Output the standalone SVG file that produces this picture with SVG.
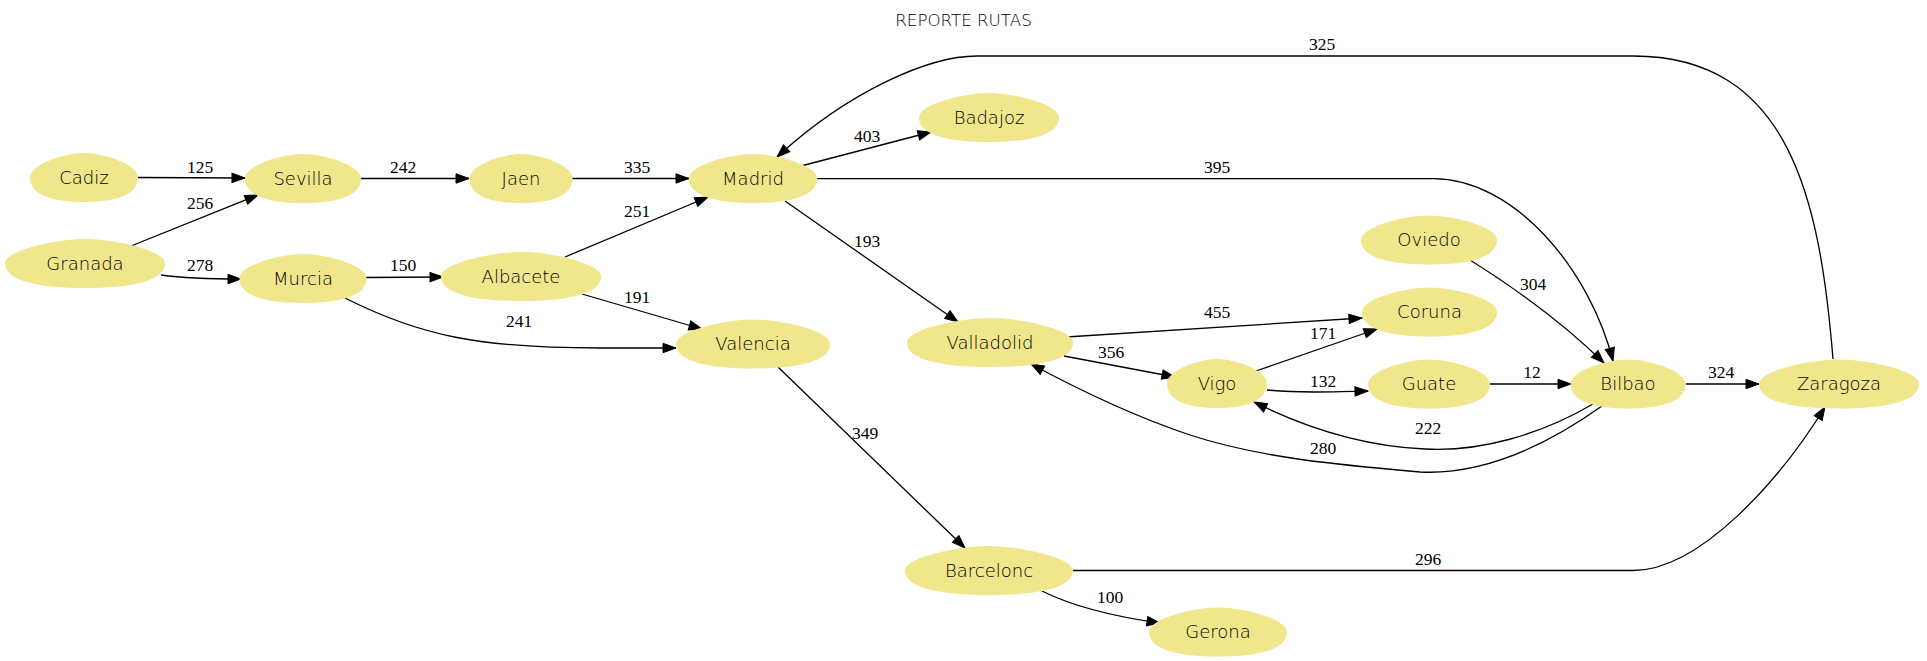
<svg xmlns="http://www.w3.org/2000/svg" xmlns:xlink="http://www.w3.org/1999/xlink" width="1927" height="661" viewBox="0 0 1927 661">
<style>
.bg{fill:#ffffff}
.node use{fill:#f0e68c;stroke:none}
.node text{font-family:"DejaVu Sans","Liberation Sans",sans-serif;font-size:18px;font-weight:200;fill:#000;text-anchor:middle}
.title{font-family:"DejaVu Sans","Liberation Sans",sans-serif;font-size:16.7px;font-weight:200;fill:#000;text-anchor:middle}
#edges path{fill:none;stroke:#000;stroke-width:1.3;marker-end:url(#arr)}
#edges text{font-family:"Liberation Serif","Times New Roman",serif;font-size:17.5px;fill:#000;text-anchor:middle}
</style>
<defs>
<path id="egg" d="M1,0 C1,0.6 0.7,1 0,1 C-0.7,1 -1,0.6 -1,0 C-1,-0.55 -0.35,-1 0,-1 C0.35,-1 1,-0.55 1,0 Z"/>
<marker id="arr" markerUnits="userSpaceOnUse" markerWidth="14" markerHeight="10" viewBox="0 0 14 10" refX="13" refY="4.7" orient="auto" overflow="visible">
<path d="M0,0 L13,4.7 L0,9.4 Z" fill="#000" stroke="#000" stroke-width="1"/>
</marker>
</defs>
<rect class="bg" x="0" y="0" width="1927" height="661"/>
<g id="title"><text class="title" x="963.5" y="26">REPORTE RUTAS</text></g>

<g id="edges">
<g id="e_Cadiz_Sevilla"><path d="M138,177.5 L245,178"/><text x="200" y="173">125</text></g>
<g id="e_Granada_Sevilla"><path d="M131,246 L258,195"/><text x="200" y="209">256</text></g>
<g id="e_Granada_Murcia"><path d="M161,275 C190,279 215,279 241,279"/><text x="200" y="271">278</text></g>
<g id="e_Sevilla_Jaen"><path d="M361,178.5 L469,178.5"/><text x="403" y="173">242</text></g>
<g id="e_Murcia_Albacete"><path d="M366,277.5 L443,277"/><text x="403" y="271">150</text></g>
<g id="e_Murcia_Valencia"><path d="M345,298 C420,336 480,348 600,348 L676,348"/><text x="519" y="327">241</text></g>
<g id="e_Jaen_Madrid"><path d="M572,178.5 L689,178.5"/><text x="637" y="173">335</text></g>
<g id="e_Albacete_Madrid"><path d="M565,257 L708,197"/><text x="637" y="217">251</text></g>
<g id="e_Albacete_Valencia"><path d="M582,294 L702,329"/><text x="637" y="303">191</text></g>
<g id="e_Madrid_Badajoz"><path d="M801,166 L931,132"/><text x="867" y="142">403</text></g>
<g id="e_Madrid_Valladolid"><path d="M785,201 L958,322"/><text x="867" y="247">193</text></g>
<g id="e_Madrid_Bilbao"><path d="M817,178.7 L1433,178.7 C1515,178.7 1590,270 1613,361"/><text x="1217" y="173">395</text></g>
<g id="e_Valladolid_Coruna"><path d="M1066,337 L1362,318"/><text x="1217" y="318">455</text></g>
<g id="e_Valladolid_Vigo"><path d="M1064,356 L1175,377"/><text x="1111" y="358">356</text></g>
<g id="e_Vigo_Coruna"><path d="M1256,371 L1377,329"/><text x="1323" y="339">171</text></g>
<g id="e_Vigo_Guate"><path d="M1267,390 C1300,393 1330,392 1368,391"/><text x="1323" y="387">132</text></g>
<g id="e_Oviedo_Bilbao"><path d="M1470,260 C1510,285 1560,320 1604,363"/><text x="1533" y="290">304</text></g>
<g id="e_Guate_Bilbao"><path d="M1490,384 L1571,384"/><text x="1532" y="378">12</text></g>
<g id="e_Bilbao_Zaragoza"><path d="M1686,384 L1759,384"/><text x="1721" y="378">324</text></g>
<g id="e_Bilbao_Vigo"><path d="M1593,404 C1540,435 1480,452 1425,449 C1360,446 1300,425 1254,402"/><text x="1428" y="434">222</text></g>
<g id="e_Bilbao_Valladolid"><path d="M1602,406 C1540,450 1480,475 1420,472 C1340,465 1260,458 1190,435 C1130,415 1070,385 1031,364"/><text x="1323" y="454">280</text></g>
<g id="e_Valencia_Barcelonc"><path d="M778,367 L965,548"/><text x="865" y="439">349</text></g>
<g id="e_Barcelonc_Gerona"><path d="M1042,591 C1070,605 1110,616 1160,623"/><text x="1110" y="603">100</text></g>
<g id="e_Barcelonc_Zaragoza"><path d="M1073,570.5 L1633,570.5 C1700,570.5 1780,480 1825,407"/><text x="1428" y="565">296</text></g>
<g id="e_Zaragoza_Madrid"><path d="M1833,359 C1820,200 1790,56 1633,56 L977,56 C930,56 850,90 777,157"/><text x="1322" y="50">325</text></g>
</g>

<g id="n_Cadiz" class="node"><use xlink:href="#egg" href="#egg" transform="translate(84 177.5) scale(54 24.5)"/><text x="84" y="183.5">Cadiz</text></g>
<g id="n_Sevilla" class="node"><use xlink:href="#egg" href="#egg" transform="translate(303 178.5) scale(58 24.5)"/><text x="303" y="184.5">Sevilla</text></g>
<g id="n_Jaen" class="node"><use xlink:href="#egg" href="#egg" transform="translate(521 178.5) scale(51.5 24.5)"/><text x="521" y="184.5">Jaen</text></g>
<g id="n_Madrid" class="node"><use xlink:href="#egg" href="#egg" transform="translate(753 178.5) scale(64 24.5)"/><text x="753" y="184.5">Madrid</text></g>
<g id="n_Badajoz" class="node"><use xlink:href="#egg" href="#egg" transform="translate(989 117.5) scale(70 24.5)"/><text x="989" y="123.5">Badajoz</text></g>
<g id="n_Granada" class="node"><use xlink:href="#egg" href="#egg" transform="translate(85 263.5) scale(80 24.5)"/><text x="85" y="269.5">Granada</text></g>
<g id="n_Murcia" class="node"><use xlink:href="#egg" href="#egg" transform="translate(303 278.5) scale(63.5 24.5)"/><text x="303" y="284.5">Murcia</text></g>
<g id="n_Albacete" class="node"><use xlink:href="#egg" href="#egg" transform="translate(521 276.5) scale(80 24.5)"/><text x="521" y="282.5">Albacete</text></g>
<g id="n_Valencia" class="node"><use xlink:href="#egg" href="#egg" transform="translate(753 344) scale(77 24.5)"/><text x="753" y="350">Valencia</text></g>
<g id="n_Valladolid" class="node"><use xlink:href="#egg" href="#egg" transform="translate(990 342.5) scale(83 24.5)"/><text x="990" y="348.5">Valladolid</text></g>
<g id="n_Oviedo" class="node"><use xlink:href="#egg" href="#egg" transform="translate(1429 240) scale(68 24.5)"/><text x="1429" y="246">Oviedo</text></g>
<g id="n_Coruna" class="node"><use xlink:href="#egg" href="#egg" transform="translate(1429.5 312) scale(67.5 24.5)"/><text x="1429.5" y="318">Coruna</text></g>
<g id="n_Vigo" class="node"><use xlink:href="#egg" href="#egg" transform="translate(1217 383.5) scale(50 24.5)"/><text x="1217" y="389.5">Vigo</text></g>
<g id="n_Guate" class="node"><use xlink:href="#egg" href="#egg" transform="translate(1429 384) scale(61 24.5)"/><text x="1429" y="390">Guate</text></g>
<g id="n_Bilbao" class="node"><use xlink:href="#egg" href="#egg" transform="translate(1628 384) scale(57.5 24.5)"/><text x="1628" y="390">Bilbao</text></g>
<g id="n_Zaragoza" class="node"><use xlink:href="#egg" href="#egg" transform="translate(1839 384) scale(80 24.5)"/><text x="1839" y="390">Zaragoza</text></g>
<g id="n_Barcelonc" class="node"><use xlink:href="#egg" href="#egg" transform="translate(989 570.5) scale(84 24.5)"/><text x="989" y="576.5">Barcelonc</text></g>
<g id="n_Gerona" class="node"><use xlink:href="#egg" href="#egg" transform="translate(1218 632) scale(69 24.5)"/><text x="1218" y="638">Gerona</text></g>
</svg>
